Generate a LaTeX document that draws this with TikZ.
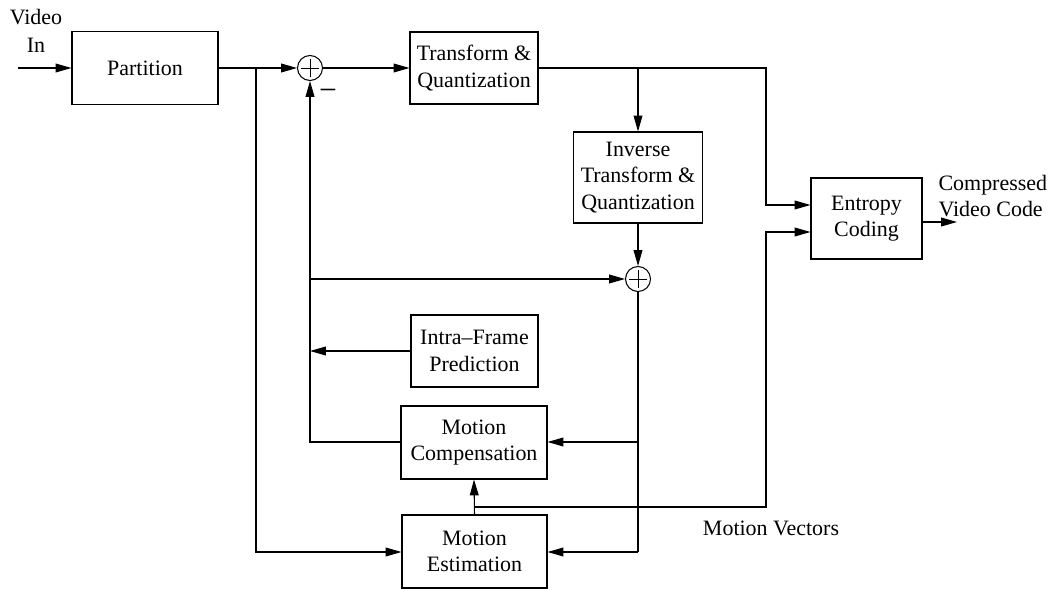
\documentclass[tikz,border=0pt]{standalone}
\usepackage{fontspec}
\setmainfont{Liberation Serif}
\usetikzlibrary{arrows.meta}
\begin{document}
\begin{tikzpicture}[x=0.02cm,y=-0.02cm,
  font=\fontsize{12.5}{15}\selectfont,
  line width=0.6pt,
  >={Triangle[length=9pt,width=5pt]},
  block/.style={draw,rectangle,align=center,inner sep=0pt},
  summer/.style={draw,circle,minimum size=0.5cm,inner sep=0pt,
    path picture={\draw[line width=0.5pt]
      ([yshift=-2pt]path picture bounding box.north) -- ([yshift=2pt]path picture bounding box.south)
      ([xshift=2pt]path picture bounding box.west) -- ([xshift=-2pt]path picture bounding box.east);}},
  label/.style={align=center,inner sep=0pt}]
\useasboundingbox (0,0) rectangle (1050,590);

% blocks
\node[block,minimum width=2.92cm,minimum height=1.46cm] (part) at (145,68) {Partition};
\node[block,minimum width=2.56cm,minimum height=1.44cm] (tq) at (474,68) {Transform \&\\Quantization};
\node[block,minimum width=2.58cm,minimum height=1.82cm] (itq) at (638,177.5) {Inverse\\Transform \&\\Quantization};
\node[block,minimum width=2.22cm,minimum height=1.62cm] (ent) at (866.5,218.5) {Entropy\\Coding};
\node[block,minimum width=2.54cm,minimum height=1.44cm] (ifp) at (474.5,351) {Intra--Frame\\Prediction};
\node[block,minimum width=2.92cm,minimum height=1.46cm] (mc) at (474,442.5) {Motion\\Compensation};
\node[block,minimum width=2.90cm,minimum height=1.46cm] (me) at (474.5,551.5) {Motion\\Estimation};

% summing junctions
\node[summer] (s1) at (310,68) {};
\node[summer] (s2) at (638,279) {};

% labels
\node[label,font=\fontsize{12.5}{16}\selectfont] (vin) at (36,31) {Video\\In};
\node[label,anchor=west,align=left] (cvc) at (938,196) {Compressed\\Video Code};
\node[label] (mv) at (771,528) {Motion Vectors};
\node[label,font=\fontsize{18}{18}\selectfont] (minus) at (328,95) {−};

% junction points
\coordinate (src) at (18,68);
\coordinate (split) at (256,68);
\coordinate (splitdn) at (256,552);
\coordinate (tqbr) at (638,68);
\coordinate (tqc) at (766,68);
\coordinate (tqe) at (766,205);
\coordinate (fbc) at (310,442);
\coordinate (fbs) at (310,279);
\coordinate (fbi) at (310,351);
\coordinate (recmc) at (638,442);
\coordinate (recme) at (638,552);
\coordinate (mvbr) at (474,507);
\coordinate (mvc) at (766,507);
\coordinate (mve) at (766,232);
\coordinate (out) at (957,222);

% forward path
\draw[->] (src) -- (part.west);
\draw[->] (part.east) -- (s1.west);
\draw[->] (split) -- (splitdn) -- (me.west |- splitdn);
\draw[->] (s1.east) -- (tq.west |- s1.east);
\draw[->] (tq.east |- tqc) -- (tqc) -- (tqe) -- (ent.west |- tqe);
\draw[->] (tqbr) -- (itq.north -| tqbr);
\draw[->] (itq.south -| s2) -- (s2.north);
\draw[->] (ent.east |- out) -- (out);

% reconstruction path
\draw (s2.south) -- (recme);
\draw[->] (recme) -- (me.east |- recme);
\draw[->] (recmc) -- (mc.east |- recmc);

% prediction feedback
\draw[->] (mc.west |- fbc) -- (fbc) -- (s1.south);
\draw[->] (fbs) -- (s2.west);
\draw[->] (ifp.west) -- (fbi);

% motion vectors
\draw[->] (me.north) -- (mc.south);
\draw[->] (mvbr) -- (mvc) -- (mve) -- (ent.west |- mve);
\end{tikzpicture}
\end{document}
